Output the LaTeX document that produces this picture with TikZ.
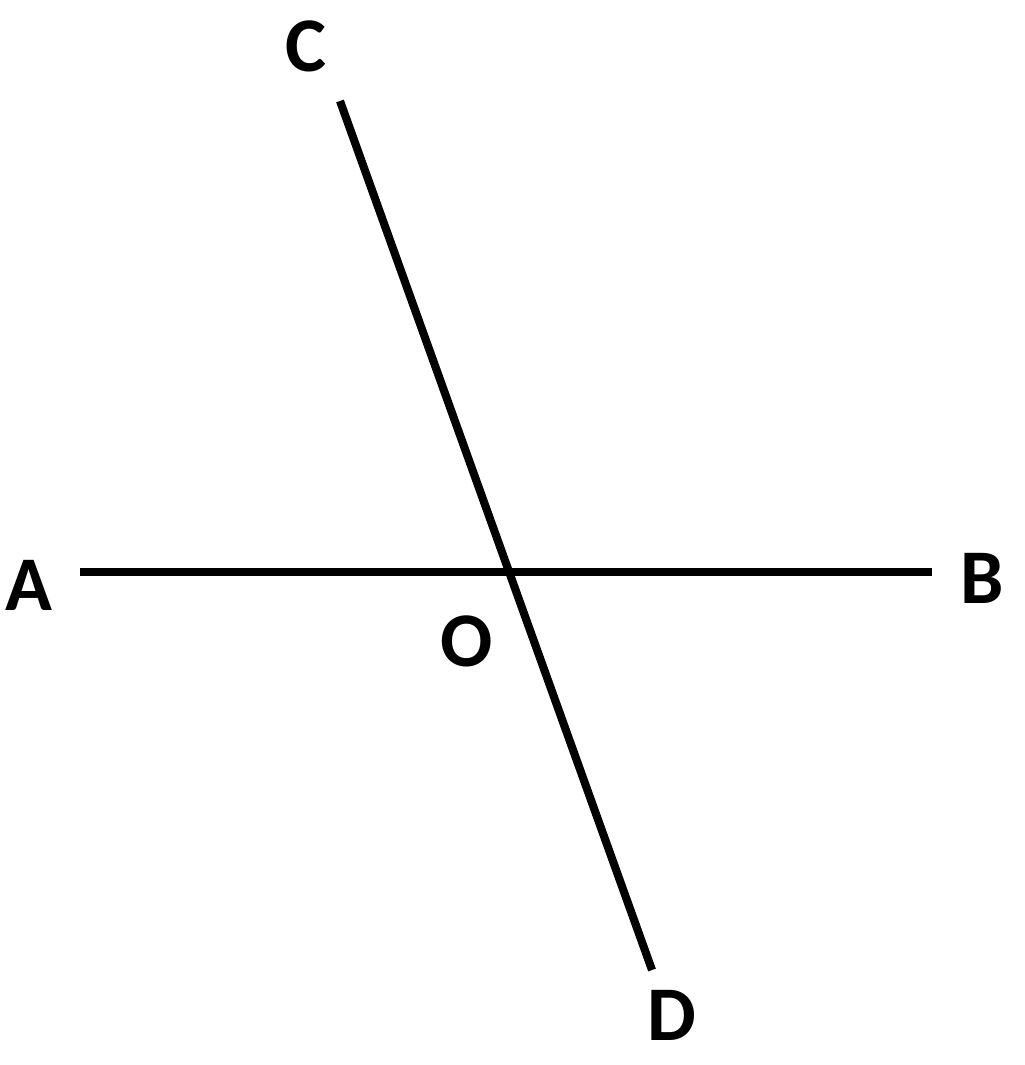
\documentclass[tikz,border=0pt]{standalone}
\usepackage{fontspec}
\setmainfont{Carlito}
\begin{document}
\begin{tikzpicture}[x=0.01cm, y=-0.01cm, lbl/.style={font=\fontsize{22}{26}\selectfont\bfseries, inner sep=0pt}]
\useasboundingbox (0,0) rectangle (1024,1065);
\coordinate (a) at (80,572);
\coordinate (b) at (932,572);
\coordinate (c) at (340,101);
\coordinate (d) at (652,970);
\draw [black, line width=2.3pt] (a) -- (b);
\draw [black, line width=2.3pt] (c) -- (d);
\node [lbl] (A) at (29,585) {A};
\node [lbl] (B) at (982,578) {B};
\node [lbl] (C) at (306,46) {C};
\node [lbl] (D) at (672,1015) {D};
\node [lbl] (O) at (467,641) {O};
\end{tikzpicture}
\end{document}
